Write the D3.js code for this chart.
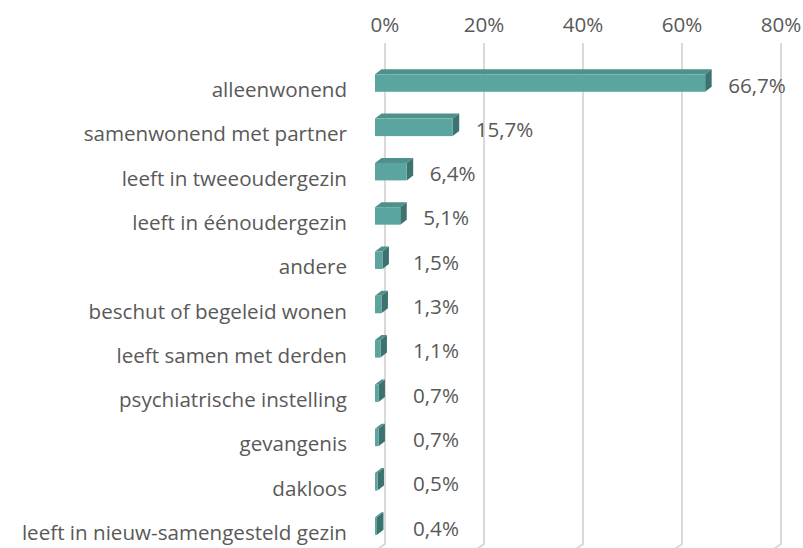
<!DOCTYPE html>
<html>
<head>
<meta charset="utf-8">
<script src="https://cdn.jsdelivr.net/npm/d3@7"></script>
<style>
  body { margin: 0; background: #fff; }
  text { font-family: "Open Sans", sans-serif; fill: #595959; font-size: 20.6px; }
</style>
</head>
<body>
<svg id="chart" width="803" height="548"></svg>
<script>
// data
const categories = [
  "alleenwonend",
  "samenwonend met partner",
  "leeft in tweeoudergezin",
  "leeft in éénoudergezin",
  "andere",
  "beschut of begeleid wonen",
  "leeft samen met derden",
  "psychiatrische instelling",
  "gevangenis",
  "dakloos",
  "leeft in nieuw-samengesteld gezin"
];
const values = [66.7, 15.7, 6.4, 5.1, 1.5, 1.3, 1.1, 0.7, 0.7, 0.5, 0.4];
const valueLabels = ["66,7%", "15,7%", "6,4%", "5,1%", "1,5%", "1,3%", "1,1%", "0,7%", "0,7%", "0,5%", "0,4%"];
const tickValues = [0, 20, 40, 60, 80];
const tickLabels = ["0%", "20%", "40%", "60%", "80%"];

const svg = d3.select("#chart");

// 3d offsets
const wallDx = 10;   // back wall sits right of the bar fronts
const depthDx = 6.5; // bar depth
const depthDy = -5;

const x = d3.scaleLinear().domain([0, 80]).range([375, 771]);
const y = d3.scaleBand().domain(categories).range([47.5, 561.6]).padding(0.605);

// gridlines on the back wall + floor
const grid = svg.append("g");
tickValues.forEach(function (t) {
  const gx = x(t) + wallDx;
  grid.append("path")
    .attr("d", `M${gx},43 L${gx},544 L${gx - wallDx},551`)
    .attr("fill", "none")
    .attr("stroke", "#d9d9d9")
    .attr("stroke-width", 2);
});

// tick labels
svg.append("g").selectAll("text")
  .data(tickValues)
  .enter().append("text")
  .attr("x", function (d) { return x(d) + wallDx; })
  .attr("y", 32)
  .attr("text-anchor", "middle")
  .text(function (d, i) { return tickLabels[i]; });

// bars
const bars = svg.append("g").selectAll("g")
  .data(values)
  .enter().append("g");

bars.append("path") // top face
  .attr("d", function (d, i) {
    const x0 = x(0), x1 = x(d), y0 = y(categories[i]);
    return `M${x0},${y0} L${x0 + depthDx},${y0 + depthDy} L${x1 + depthDx},${y0 + depthDy} L${x1},${y0} Z`;
  })
  .attr("fill", "#4f908b");

bars.append("path") // side face
  .attr("d", function (d, i) {
    const x1 = x(d), y0 = y(categories[i]), y1 = y0 + y.bandwidth();
    return `M${x1},${y0} L${x1 + depthDx},${y0 + depthDy} L${x1 + depthDx},${y1 + depthDy} L${x1},${y1} Z`;
  })
  .attr("fill", "#3d736f");

bars.append("rect") // front face
  .attr("x", x(0))
  .attr("y", function (d, i) { return y(categories[i]); })
  .attr("width", function (d) { return x(d) - x(0); })
  .attr("height", y.bandwidth())
  .attr("fill", "#5aa59f");

// category labels
svg.append("g").selectAll("text")
  .data(categories)
  .enter().append("text")
  .attr("x", 347)
  .attr("y", function (d) { return y(d) + y.bandwidth() / 2 + 14; })
  .attr("text-anchor", "end")
  .text(function (d) { return d; });

// value labels
svg.append("g").selectAll("text")
  .data(values)
  .enter().append("text")
  .attr("x", function (d) { return Math.max(x(d) + 23, x(0) + 38); })
  .attr("y", function (d, i) { return y(categories[i]) + y.bandwidth() / 2 + 9.5; })
  .text(function (d, i) { return valueLabels[i]; });
</script>
</body>
</html>
